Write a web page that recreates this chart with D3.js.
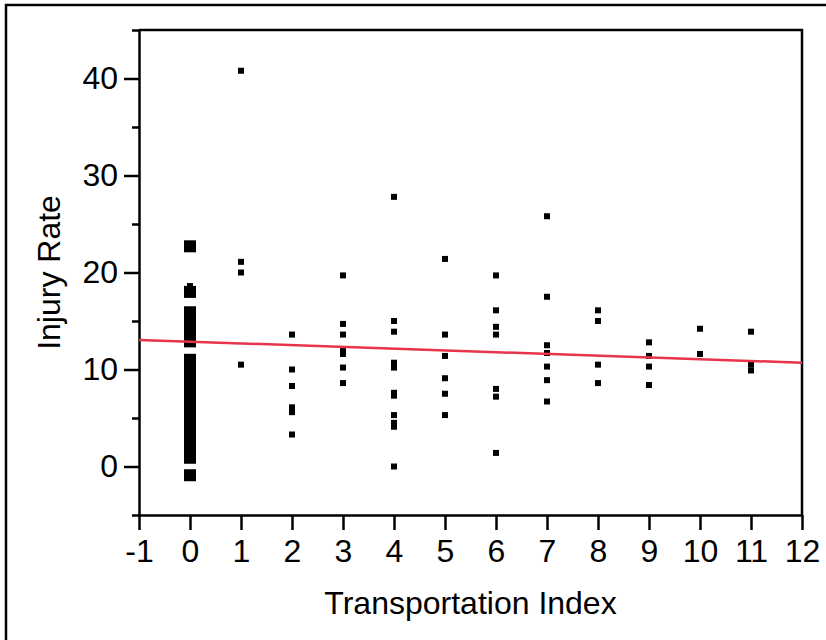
<!DOCTYPE html>
<html>
<head>
<meta charset="utf-8">
<style>
    body { margin: 0; background: #fff; }
    svg text { font-family: "Liberation Sans", Arial, sans-serif; fill: #000; }
</style>
</head>
<body>
<div id="vis"></div>

<script src="https://d3js.org/d3.v7.min.js"></script>
<script>
    // data
    // x = 0 has lots of overlapping points, drawn as the big markers
    const zeroIndexRates = [-0.9, 0.9, 1.8, 2.7, 3.5, 4.3, 5.0, 5.8, 6.6, 7.4, 8.1, 8.9, 9.6, 10.3, 11.0,
                            12.9, 13.7, 14.4, 15.2, 15.9, 18.0, 22.7];
    const transportIndex = [0, 1, 2, 3, 4, 5, 6, 7, 8, 9, 10, 11];
    const injuryRates = [
        [18.6],
        [40.8, 21.1, 20.0, 10.5],
        [13.6, 10.0, 8.3, 6.1, 5.6, 3.3],
        [19.7, 14.7, 13.6, 11.9, 11.6, 10.2, 8.6],
        [27.8, 15.0, 13.9, 10.7, 10.2, 7.6, 7.3, 5.3, 4.5, 4.1, 0.0],
        [21.4, 13.6, 11.4, 9.1, 7.5, 5.3],
        [19.7, 16.1, 14.4, 13.6, 8.0, 7.2, 1.4],
        [25.8, 17.5, 12.5, 11.7, 10.3, 8.9, 6.7],
        [16.1, 15.0, 10.5, 8.6],
        [12.8, 11.4, 10.3, 8.4],
        [14.2, 11.6],
        [13.9, 10.5, 9.9]
    ];
    const xTicks = [-1, 0, 1, 2, 3, 4, 5, 6, 7, 8, 9, 10, 11, 12];
    const yTicks = [0, 10, 20, 30, 40];
    const yMinorTicks = [-5, 5, 15, 25, 35, 45];
    // linear fit
    const fitIntercept = 12.87;
    const fitSlope = -0.181;

    let W = 826, H = 640;
    let margin = {top: 30, right: 24, bottom: 125, left: 139},
        width = W - margin.left - margin.right,
        height = H - margin.top - margin.bottom;

    let svg = d3.select("#vis")
        .append("svg")
        .attr("width", W)
        .attr("height", H);

    // outer frame (runs off the right and bottom)
    svg.append("rect")
        .attr("x", 6).attr("y", 5)
        .attr("width", 840).attr("height", 660)
        .attr("fill", "none")
        .attr("stroke", "#000")
        .attr("stroke-width", 2.5);

    let g = svg.append("g")
        .attr("transform", "translate(" + margin.left + "," + margin.top + ")");

    let x = d3.scaleLinear().domain([-1, 12]).range([0, width]);
    let y = d3.scaleLinear().domain([-5, 45]).range([height, 0]);

    // frame top + right
    g.append("path")
        .attr("d", "M0,0H" + width + "V" + height)
        .attr("fill", "none")
        .attr("stroke", "#000")
        .attr("stroke-width", 2.5);

    // plain hyphen for negatives, like the original
    let fmt = function (d) { return String(d); };

    // x axis
    let xAxis = g.append("g")
        .attr("transform", "translate(0," + height + ")")
        .call(d3.axisBottom(x).tickValues(xTicks).tickFormat(fmt)
            .tickSize(15).tickSizeOuter(0).tickPadding(9));
    xAxis.selectAll("text").style("font-size", "32px");

    // y axis minor ticks then major
    g.append("g")
        .call(d3.axisLeft(y).tickValues(yMinorTicks).tickSize(7).tickSizeOuter(0).tickFormat(""))
        .select(".domain").remove();
    let yAxis = g.append("g")
        .call(d3.axisLeft(y).tickValues(yTicks).tickFormat(fmt)
            .tickSize(15).tickSizeOuter(0).tickPadding(6));
    yAxis.selectAll("text").style("font-size", "32px");

    g.selectAll(".domain, .tick line")
        .attr("stroke", "#000")
        .attr("stroke-width", 2.5);

    // axis titles
    g.append("text")
        .attr("x", width / 2)
        .attr("y", height + 99)
        .attr("text-anchor", "middle")
        .style("font-size", "32px")
        .text("Transportation Index");

    g.append("text")
        .attr("transform", "rotate(-90)")
        .attr("x", -height / 2)
        .attr("y", 60 - margin.left)
        .attr("text-anchor", "middle")
        .style("font-size", "32px")
        .text("Injury Rate");

    // big markers at index 0
    let big = 12;
    g.append("g")
        .selectAll("rect")
        .data(zeroIndexRates)
        .enter()
        .append("rect")
        .attr("x", x(0) - big / 2)
        .attr("y", function (d) { return y(d) - big / 2; })
        .attr("width", big)
        .attr("height", big)
        .attr("fill", "#000");

    // the other points
    let pts = [];
    transportIndex.forEach(function (t, i) {
        injuryRates[i].forEach(function (v) { pts.push({t: t, v: v}); });
    });
    let s = 6;
    g.append("g")
        .selectAll("rect")
        .data(pts)
        .enter()
        .append("rect")
        .attr("x", function (d) { return x(d.t) - s / 2; })
        .attr("y", function (d) { return y(d.v) - s / 2; })
        .attr("width", s)
        .attr("height", s)
        .attr("fill", "#000");

    // fit line
    g.append("line")
        .attr("x1", x(-1)).attr("y1", y(fitIntercept + fitSlope * -1))
        .attr("x2", x(12)).attr("y2", y(fitIntercept + fitSlope * 12))
        .attr("stroke", "#e8344a")
        .attr("stroke-width", 2.5);
</script>
</body>
</html>
